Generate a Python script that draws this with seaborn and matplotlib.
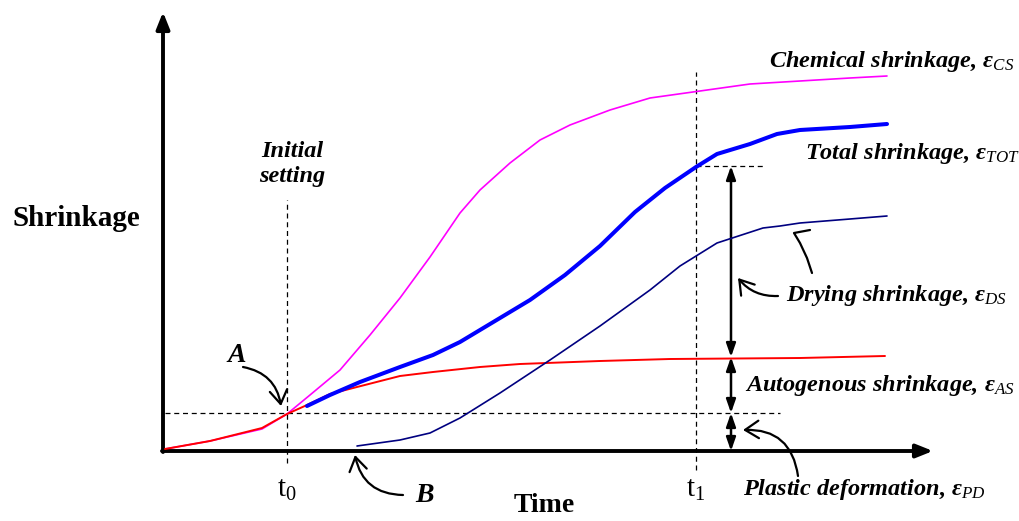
import matplotlib
matplotlib.use("Agg")
import matplotlib.pyplot as plt
import seaborn as sns
import numpy as np

# ---- data (time units, shrinkage units; conceptual diagram) ----
autogenous_t = [0.0, 4.5, 9.7, 12.2, 14.2, 16.5, 19.2, 23.5, 26.8, 31.5, 35.5, 43.5, 50.5, 63.5, 72.0]
autogenous_s = [0.2, 1.0, 2.3, 3.7, 4.6, 5.7, 6.4, 7.5, 7.9, 8.4, 8.7, 9.0, 9.2, 9.3, 9.5]

chemical_t = [0.0, 4.5, 9.7, 12.2, 14.5, 17.5, 20.5, 23.5, 26.5, 29.5, 31.5, 34.5, 37.5, 40.5, 44.5, 48.5, 53.5, 58.5, 63.5, 68.5, 72.2]
chemical_s = [0.2, 1.0, 2.2, 3.7, 5.6, 8.1, 11.6, 15.3, 19.4, 23.8, 26.1, 28.8, 31.1, 32.6, 34.1, 35.3, 36.0, 36.7, 37.0, 37.3, 37.5]

total_t = [14.2, 16.5, 19.5, 23.5, 26.8, 29.5, 33.5, 36.5, 40.0, 43.5, 47.0, 50.0, 53.1, 55.2, 58.5, 61.2, 63.5, 68.5, 72.2]
total_s = [4.5, 5.6, 6.9, 8.4, 9.6, 10.9, 13.3, 15.1, 17.6, 20.5, 23.9, 26.3, 28.4, 29.7, 30.7, 31.7, 32.1, 32.4, 32.7]

drying_t = [19.2, 23.5, 26.5, 29.5, 33.5, 38.5, 43.5, 48.5, 51.5, 55.2, 59.8, 61.5, 63.5, 68.5, 72.2]
drying_s = [0.5, 1.1, 1.8, 3.3, 5.8, 9.1, 12.5, 16.1, 18.5, 20.8, 22.3, 22.5, 22.8, 23.2, 23.5]

t0, t1 = 12.2, 53.1
level_A = 3.8          # shrinkage at initial setting
level_AS = 9.4         # autogenous plateau at t1
level_TOT = 28.5       # total shrinkage at t1

labels = {
    "cs": r"Chemical shrinkage, $\mathbf{\varepsilon}_{\mathit{CS}}$",
    "tot": r"Total shrinkage, $\mathbf{\varepsilon}_{\mathit{TOT}}$",
    "ds": r"Drying shrinkage, $\mathbf{\varepsilon}_{\mathit{DS}}$",
    "as": r"Autogenous shrinkage, $\mathbf{\varepsilon}_{\mathit{AS}}$",
    "pd": r"Plastic deformation, $\mathbf{\varepsilon}_{\mathit{PD}}$",
}

# ---- style ----
sns.set_theme(style="white")
plt.rcParams["font.family"] = ["Liberation Serif", "DejaVu Serif"]
plt.rcParams["text.color"] = "black"
plt.rcParams["mathtext.fontset"] = "custom"
plt.rcParams["mathtext.rm"] = "Liberation Serif"
plt.rcParams["mathtext.it"] = "Liberation Serif:italic"
plt.rcParams["mathtext.bf"] = "Liberation Serif:bold:italic"

fig = plt.figure(figsize=(10.2, 5.21), dpi=100)
ax = fig.add_axes([0, 0, 1, 1])
ax.set_xlim(-16.5, 85.5)
ax.set_ylim(-7.0, 45.1)
ax.axis("off")

# ---- curves ----
sns.lineplot(x=chemical_t, y=chemical_s, ax=ax, color="#ff00ff", lw=1.2, estimator=None, zorder=3)
sns.lineplot(x=autogenous_t, y=autogenous_s, ax=ax, color="#ff0000", lw=1.4, estimator=None, zorder=4)
sns.lineplot(x=total_t, y=total_s, ax=ax, color="#0000ff", lw=2.9, estimator=None, zorder=5)
sns.lineplot(x=drying_t, y=drying_s, ax=ax, color="#000080", lw=1.2, estimator=None, zorder=4)

# ---- axes arrows ----
axarrow = dict(arrowstyle="-|>,head_length=1.0,head_width=0.4", lw=2.8, color="black",
               shrinkA=0, shrinkB=0, mutation_scale=10)
ax.annotate("", xy=(-0.2, 43.9), xytext=(-0.2, -0.1), arrowprops=axarrow)
ax.annotate("", xy=(76.8, 0.0), xytext=(-0.3, 0.0), arrowprops=axarrow)

# ---- dashed guides ----
dash = dict(color="black", lw=0.9, ls=(0, (4, 3)), zorder=2)
ax.plot([t0, t0], [-1.2, 25.1], **dash)
ax.plot([t1, t1], [-1.9, 37.9], **dash)
ax.plot([0, 61.5], [level_A, level_A], **dash)
ax.plot([t1, 60.0], [level_TOT, level_TOT], **dash)

# ---- double arrows ----
xa = 56.6
for lo, hi in [(level_AS, level_TOT), (level_A, level_AS), (0.0, level_A)]:
    ax.annotate("", xy=(xa, hi), xytext=(xa, lo),
                arrowprops=dict(arrowstyle="<|-|>,head_length=1.0,head_width=0.35", lw=1.8,
                                color="black", shrinkA=0, shrinkB=0, mutation_scale=8))

# ---- curved pointer arrows ----
cp = dict(arrowstyle="->,head_length=0.7,head_width=0.45", lw=1.6, color="black",
          shrinkA=0, shrinkB=0, mutation_scale=14)
ax.annotate("", xy=(11.6, 4.5), xytext=(7.8, 8.4), arrowprops=dict(cp, connectionstyle="arc3,rad=-0.35"))
ax.annotate("", xy=(19.0, -0.4), xytext=(23.8, -4.4), arrowprops=dict(cp, connectionstyle="arc3,rad=-0.4"))
ax.annotate("", xy=(57.3, 17.3), xytext=(61.3, 15.5), arrowprops=dict(cp, connectionstyle="arc3,rad=-0.25"))
ax.annotate("", xy=(57.8, 2.1), xytext=(63.3, -2.5), arrowprops=dict(cp, connectionstyle="arc3,rad=0.45"))
hook_t = [64.5, 62.9, 63.5, 64.2, 64.7]
hook_s = [22.1, 21.8, 20.8, 19.3, 17.8]
ax.plot(hook_t, hook_s, color="black", lw=1.6, solid_capstyle="round")

# ---- texts ----
bi = dict(fontweight="bold", fontstyle="italic", fontsize=17.5)
ax.text(-8.9, 23.3, "Shrinkage", fontsize=21, fontweight="bold", ha="center", va="center")
ax.text(37.9, -5.4, "Time", fontsize=20, fontweight="bold", ha="center", va="center")
ax.text(t0, -3.9, r"$\mathrm{t}_{0}$", fontsize=21, ha="center", va="center")
ax.text(t1, -3.9, r"$\mathrm{t}_{1}$", fontsize=21, ha="center", va="center")
ax.text(12.7, 28.7, "Initial\nsetting", ha="center", va="center", linespacing=1.3,
        fontweight="bold", fontstyle="italic", fontsize=17.5)
ax.text(7.2, 9.6, "A", ha="center", va="center", fontsize=20, fontweight="bold", fontstyle="italic")
ax.text(26.0, -4.4, "B", ha="center", va="center", fontsize=20, fontweight="bold", fontstyle="italic")

ax.text(60.4, 38.9, labels["cs"], ha="left", va="center", **bi)
ax.text(64.0, 29.8, labels["tot"], ha="left", va="center", **bi)
ax.text(62.1, 15.5, labels["ds"], ha="left", va="center", **bi)
ax.text(58.0, 6.6, labels["as"], ha="left", va="center", **bi)
ax.text(57.8, -3.9, labels["pd"], ha="left", va="center", **bi)

fig.savefig("out.png", dpi=100)
